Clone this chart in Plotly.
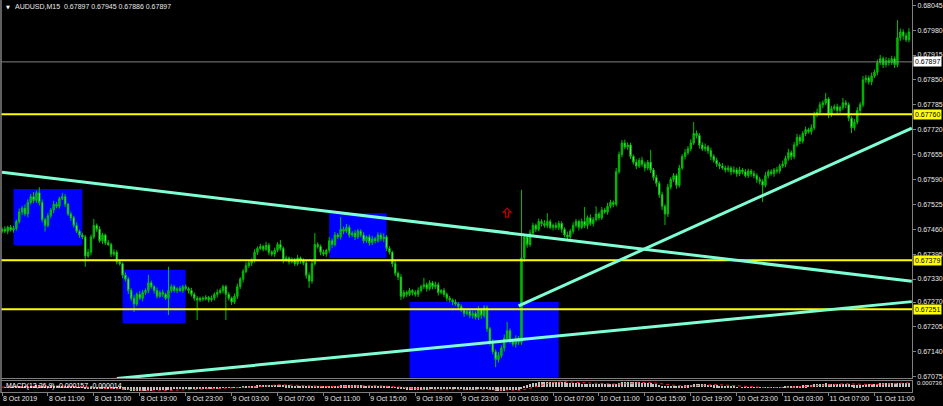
import numpy as np
import pandas as pd
import plotly.graph_objects as go

# ---------------- data ----------------
header_text = "AUDUSD,M15\u00a0\u00a00.67897 0.67945 0.67886 0.67897"
macd_label = "MACD(12,26,9) -0.000157 -0.000014"
first_bar = "2019-10-08 07:00"
base_price = 0.67000
point = 0.00001
first_open = 455  # points above base

closes = [
    460, 455, 465, 458, 462, 480, 505, 515, 500, 530,
    545, 535, 555, 530, 485, 470, 495, 510, 525, 520,
    540, 545, 525, 500, 490, 470, 455, 445, 440, 390,
    400, 440, 470, 460, 430, 445, 425, 420, 395, 400,
    375, 370, 340, 330, 300, 280, 265, 290, 280, 295,
    300, 320, 310, 300, 285, 295, 290, 280, 300, 310,
    300, 305, 300, 310, 305, 300, 290, 280, 275, 280,
    278, 282, 276, 280, 290, 295, 300, 310, 290, 280,
    270, 285, 310, 330, 350, 365, 372, 378, 400, 410,
    415, 408, 418, 400, 395, 405, 420, 410, 380, 385,
    375, 380, 370, 385, 378, 372, 340, 325, 370, 420,
    415, 400, 395, 405, 430, 420, 445, 440, 460, 455,
    465, 445, 450, 440, 455, 445, 430, 440, 425, 435,
    430, 445, 435, 440, 410, 400, 370, 345, 335, 285,
    295, 290, 300, 295, 290, 300, 310, 315, 305, 320,
    310, 315, 295, 300, 290, 280, 275, 270, 265, 258,
    250, 240, 245, 235, 240, 230, 250, 235, 255, 200,
    165, 140, 120, 130, 150, 175, 195, 170, 160, 175,
    165, 385, 440, 420, 450, 470, 460, 480, 475, 470,
    480, 465, 470, 465, 475, 460, 445, 440, 455, 470,
    480, 465, 480, 470, 490, 475, 485, 500, 490, 510,
    505, 520, 530, 525, 610, 655, 685, 675, 680, 650,
    635, 625, 640, 630, 620, 635, 615, 595, 580, 550,
    520, 500, 570, 590, 600, 575, 620, 650, 660, 670,
    685, 710, 705, 680, 670, 675, 665, 650, 640, 630,
    625, 620, 615, 620, 610, 615, 605, 615, 610, 600,
    612, 605, 600, 590, 585, 575, 600, 610, 605, 615,
    612, 625, 630, 645, 660, 650, 680, 700, 690, 710,
    720, 715, 725, 760, 765, 785, 790, 800, 760, 775,
    780, 770, 778, 790, 785, 750, 725, 740, 770, 785,
    850, 855, 845, 860, 870, 895, 905, 890, 900, 895,
    905, 890, 960, 975, 965, 955, 975,
]

up_wick = [
    5, 8, 4, 6, 7, 5, 9, 6, 10, 8,
    7, 12, 6, 15, 8, 5, 7, 6, 9, 6,
    5, 10, 7, 4, 6, 5, 8, 4, 6, 5,
    9, 6, 17, 5, 8, 6, 4, 7, 5, 8,
    6, 5, 4, 7, 5, 6, 8, 5, 9, 6,
    5, 21, 6, 4, 8, 5, 7, 4, 62, 6,
    5, 4, 7, 5, 6, 4, 7, 5, 6, 4,
    5, 6, 4, 7, 5, 8, 6, 5, 5, 6,
    4, 7, 8, 5, 6, 9, 5, 6, 8, 5,
    7, 4, 9, 6, 5, 7, 6, 12, 5, 6,
    4, 7, 5, 8, 4, 6, 5, 7, 9, 30,
    6, 5, 7, 4, 10, 6, 8, 5, 32, 7,
    9, 6, 5, 8, 6, 5, 7, 4, 6, 8,
    5, 7, 6, 9, 5, 6, 4, 7, 5, 8,
    6, 5, 7, 4, 6, 8, 5, 18, 6, 7,
    5, 8, 6, 4, 7, 5, 6, 4, 7, 5,
    6, 4, 8, 5, 7, 6, 9, 5, 7, 6,
    5, 8, 6, 9, 7, 10, 23, 6, 5, 8,
    6, 178, 8, 6, 9, 7, 5, 8, 6, 9,
    22, 6, 5, 8, 7, 6, 5, 9, 6, 8,
    7, 5, 8, 38, 6, 9, 7, 20, 5, 8,
    6, 9, 7, 5, 10, 8, 8, 9, 7, 6,
    5, 8, 6, 9, 7, 6, 32, 5, 7, 6,
    8, 5, 9, 6, 7, 5, 8, 6, 9, 7,
    10, 30, 8, 6, 7, 9, 5, 8, 6, 7,
    5, 8, 6, 7, 5, 9, 6, 8, 5, 7,
    6, 5, 8, 6, 7, 5, 9, 6, 7, 5,
    8, 6, 9, 7, 10, 6, 8, 9, 7, 6,
    8, 5, 9, 7, 10, 8, 6, 16, 5, 7,
    6, 8, 5, 13, 7, 6, 5, 8, 9, 7,
    10, 8, 6, 9, 7, 8, 10, 6, 9, 7,
    8, 6, 46, 9, 7, 8, 10,
]

down_wick = [
    6, 5, 8, 4, 7, 6, 5, 8, 6, 9,
    5, 7, 6, 8, 7, 16, 5, 6, 8, 5,
    6, 4, 7, 5, 8, 6, 5, 7, 6, 28,
    5, 8, 6, 7, 5, 9, 6, 4, 8, 6,
    7, 5, 8, 6, 9, 7, 21, 6, 5, 8,
    6, 7, 5, 8, 6, 4, 7, 5, 44, 6,
    5, 7, 4, 6, 5, 8, 6, 7, 52, 5,
    6, 4, 7, 5, 6, 8, 5, 7, 67, 6,
    8, 5, 7, 6, 9, 5, 6, 8, 5, 7,
    4, 6, 5, 8, 6, 7, 5, 6, 9, 5,
    7, 4, 6, 5, 8, 6, 9, 18, 7, 5,
    6, 8, 5, 7, 6, 9, 5, 6, 7, 8,
    5, 7, 6, 8, 5, 6, 7, 5, 8, 6,
    7, 5, 6, 8, 7, 6, 9, 7, 8, 10,
    6, 7, 5, 8, 6, 7, 5, 6, 8, 5,
    7, 6, 8, 5, 7, 9, 6, 8, 5, 7,
    6, 9, 5, 7, 8, 6, 7, 9, 6, 8,
    9, 7, 20, 8, 6, 9, 7, 8, 6, 9,
    7, 7, 10, 8, 6, 9, 7, 5, 8, 6,
    7, 5, 8, 6, 7, 9, 6, 8, 5, 7,
    6, 8, 5, 7, 9, 6, 8, 5, 7, 6,
    5, 7, 6, 8, 6, 5, 7, 6, 8, 7,
    6, 8, 5, 7, 9, 6, 8, 7, 9, 8,
    10, 29, 8, 6, 7, 9, 6, 5, 8, 6,
    7, 5, 8, 9, 6, 7, 8, 10, 6, 7,
    8, 5, 7, 6, 9, 5, 8, 6, 7, 5,
    6, 8, 7, 9, 8, 44, 6, 7, 5, 8,
    6, 7, 5, 8, 6, 9, 7, 5, 8, 6,
    7, 5, 8, 6, 7, 5, 9, 6, 10, 7,
    5, 8, 6, 7, 9, 8, 14, 7, 6, 8,
    6, 8, 7, 9, 5, 8, 6, 9, 7, 8,
    6, 9, 7, 8, 10, 6, 7,
]

tick_times = ["2019-10-08 07:00", "2019-10-08 11:00", "2019-10-08 15:00", "2019-10-08 19:00",
              "2019-10-08 23:00", "2019-10-09 03:00", "2019-10-09 07:00", "2019-10-09 11:00",
              "2019-10-09 15:00", "2019-10-09 19:00", "2019-10-09 23:00", "2019-10-10 03:00",
              "2019-10-10 07:00", "2019-10-10 11:00", "2019-10-10 15:00", "2019-10-10 19:00",
              "2019-10-10 23:00", "2019-10-11 03:00", "2019-10-11 07:00", "2019-10-11 11:00"]
tick_labels = ["8 Oct 2019", "8 Oct 11:00", "8 Oct 15:00", "8 Oct 19:00", "8 Oct 23:00",
               "9 Oct 03:00", "9 Oct 07:00", "9 Oct 11:00", "9 Oct 15:00", "9 Oct 19:00",
               "9 Oct 23:00", "10 Oct 03:00", "10 Oct 07:00", "10 Oct 11:00", "10 Oct 15:00",
               "10 Oct 19:00", "10 Oct 23:00", "11 Oct 03:00", "11 Oct 07:00", "11 Oct 11:00"]
price_ticks = [0.68045, 0.67980, 0.67915, 0.67850, 0.67785, 0.67720, 0.67655, 0.67590,
               0.67525, 0.67460, 0.67395, 0.67330, 0.67270, 0.67205, 0.67140, 0.67075]

yellow_levels = [0.67760, 0.67379, 0.67251]
bid_price = 0.67897

# zones: start, end, top price, bottom price
zone_start = ["2019-10-08 08:00", "2019-10-08 17:30", "2019-10-09 11:30", "2019-10-09 18:30"]
zone_end = ["2019-10-08 14:00", "2019-10-08 23:00", "2019-10-09 16:30", "2019-10-10 07:30"]
zone_top = [0.67565, 0.67354, 0.67502, 0.67270]
zone_bottom = [0.67419, 0.67215, 0.67385, 0.67072]

# trend lines: (time1, price1, time2, price2)
trend_t1 = ["2019-10-08 07:00", "2019-10-08 17:00", "2019-10-10 04:00"]
trend_p1 = [0.67609, 0.67070, 0.67260]
trend_t2 = ["2019-10-11 14:15", "2019-10-11 14:15", "2019-10-11 14:15"]
trend_p2 = [0.67324, 0.67271, 0.67724]

arrow_time = "2019-10-10 03:00"
arrow_price = 0.67502

# ---------------- build ----------------
times = pd.date_range(first_bar, periods=len(closes), freq="15min")
c = np.array(closes, dtype=float)
o = np.concatenate([[first_open], c[:-1]])
h = np.maximum(o, c) + np.array(up_wick)
l = np.minimum(o, c) - np.array(down_wick)
to_price = lambda a: base_price + a * point
O, H, L, C = to_price(o), to_price(h), to_price(l), to_price(c)

close_s = pd.Series(C)
macd = close_s.ewm(span=12, adjust=False).mean() - close_s.ewm(span=26, adjust=False).mean()
signal = macd.rolling(9, min_periods=1).mean()

t0 = pd.Timestamp(first_bar)
bar = pd.Timedelta(minutes=15)
x_left = t0 - 0.35 * bar
x_right = t0 + 317.07 * bar

fig = go.Figure()
fig.add_trace(go.Candlestick(
    x=times, open=O, high=H, low=L, close=C,
    increasing=dict(line=dict(color="#00C000", width=1), fillcolor="#00B000"),
    decreasing=dict(line=dict(color="#00C000", width=1), fillcolor="#B8FFB8"),
    whiskerwidth=0, xaxis="x", yaxis="y", showlegend=False, hoverinfo="skip"))

fig.add_trace(go.Bar(x=times, y=macd, marker=dict(color="#C0C0C0", line=dict(width=0)),
                     width=330000, xaxis="x2", yaxis="y2", showlegend=False, hoverinfo="skip"))
fig.add_trace(go.Scatter(x=times, y=signal, mode="lines",
                         line=dict(color="#FF2020", width=1, dash="dot"),
                         xaxis="x2", yaxis="y2", showlegend=False, hoverinfo="skip"))

shapes = []
for s, e, tp, bt in zip(zone_start, zone_end, zone_top, zone_bottom):
    shapes.append(dict(type="rect", xref="x", yref="y", x0=s, x1=e, y0=bt, y1=tp,
                       fillcolor="#0000FF", line=dict(width=0), layer="below"))
for lv in yellow_levels:
    shapes.append(dict(type="line", xref="paper", yref="y", x0=0, x1=1, y0=lv, y1=lv,
                       line=dict(color="#FFFF00", width=2), layer="above"))
shapes.append(dict(type="line", xref="paper", yref="y", x0=0, x1=1, y0=bid_price, y1=bid_price,
                   line=dict(color="#808080", width=1), layer="above"))
for a, pa, b, pb in zip(trend_t1, trend_p1, trend_t2, trend_p2):
    shapes.append(dict(type="line", xref="x", yref="y", x0=a, y0=pa, x1=b, y1=pb,
                       line=dict(color="#7FFFD4", width=3), layer="above"))
# red up-arrow mark (outlined), sized in pixels around its anchor
shapes.append(dict(type="path", xref="x", yref="y", xsizemode="pixel", ysizemode="pixel",
                   xanchor=arrow_time, yanchor=arrow_price,
                   path="M 0 5 L -4 1 L -1.5 1 L -1.5 -4 L 1.5 -4 L 1.5 1 L 4 1 Z",
                   line=dict(color="#C00000", width=1.2), fillcolor="rgba(0,0,0,0)", layer="above"))
# left border
shapes.append(dict(type="line", xref="paper", yref="paper", x0=0, x1=0, y0=0, y1=1,
                   line=dict(color="#808080", width=1.5)))

annotations = [
    dict(xref="paper", yref="paper", x=0.003, y=1, yshift=-2, xanchor="left", yanchor="top",
         text="\u25BC", showarrow=False, font=dict(size=5, color="#FFFFFF", family="DejaVu Sans")),
    dict(xref="paper", yref="paper", x=0.013, y=1, yshift=-1, xanchor="left", yanchor="top",
         text=header_text, showarrow=False, font=dict(size=7, color="#E8E8E8", family="Liberation Sans")),
    dict(xref="paper", yref="y2 domain", x=0.003, y=0.5, xanchor="left", yanchor="middle",
         text=macd_label, showarrow=False, font=dict(size=7, color="#FFFFFF", family="Liberation Sans")),
    dict(xref="paper", yref="y2 domain", x=1, xshift=3, y=0.85, xanchor="left", yanchor="middle",
         text="0.000736", showarrow=False, font=dict(size=6, color="#E8E8E8", family="Liberation Sans")),
]
for lv in yellow_levels:
    annotations.append(dict(xref="paper", yref="y", x=1, xshift=1, y=lv, xanchor="left", yanchor="middle",
                            text=f"{lv:.5f}", showarrow=False, bgcolor="#FFFF00", borderpad=1,
                            font=dict(size=7, color="#000000", family="Liberation Sans")))
annotations.append(dict(xref="paper", yref="y", x=1, xshift=1, y=bid_price, xanchor="left", yanchor="middle",
                        text=f"{bid_price:.5f}", showarrow=False, bgcolor="#FFFFFF", borderpad=1,
                        font=dict(size=7, color="#000000", family="Liberation Sans")))

fig.update_layout(
    width=943, height=406,
    margin=dict(l=1, r=31, t=0, b=13),
    paper_bgcolor="#000000", plot_bgcolor="#000000",
    font=dict(family="Liberation Sans", size=7, color="#E8E8E8"),
    showlegend=False, bargap=0,
    shapes=shapes, annotations=annotations,
    xaxis=dict(domain=[0, 1], anchor="y", range=[x_left, x_right], showgrid=False, zeroline=False,
               showticklabels=False, ticks="", rangeslider=dict(visible=False),
               showline=True, linecolor="#808080", linewidth=1),
    xaxis2=dict(domain=[0, 1], anchor="y2", matches="x", showgrid=False, zeroline=False,
                tickvals=tick_times, ticktext=tick_labels, ticks="outside", ticklen=3,
                tickcolor="#808080", ticklabelposition="outside right", tickangle=0,
                tickfont=dict(size=7, color="#E8E8E8", family="Liberation Sans"),
                showline=True, linecolor="#808080", linewidth=1, mirror=True, automargin=False),
    yaxis=dict(domain=[0.03817, 1], anchor="x", side="right", range=[0.670716, 0.680586],
               tickvals=price_ticks, ticktext=[f"{v:.5f}" for v in price_ticks],
               ticks="outside", ticklen=3, tickcolor="#808080", showgrid=False, zeroline=False,
               showline=True, linecolor="#808080", linewidth=1, automargin=False,
               tickfont=dict(size=7, color="#E8E8E8", family="Liberation Sans")),
    yaxis2=dict(domain=[0.003, 0.0305], anchor="x2", side="right", showgrid=False, zeroline=False,
                showticklabels=False, ticks="", showline=True, linecolor="#808080", linewidth=1),
)

fig.write_html("out.html", config={"displayModeBar": False},
               post_script="document.body.style.margin='0';document.body.style.overflow='hidden';")
